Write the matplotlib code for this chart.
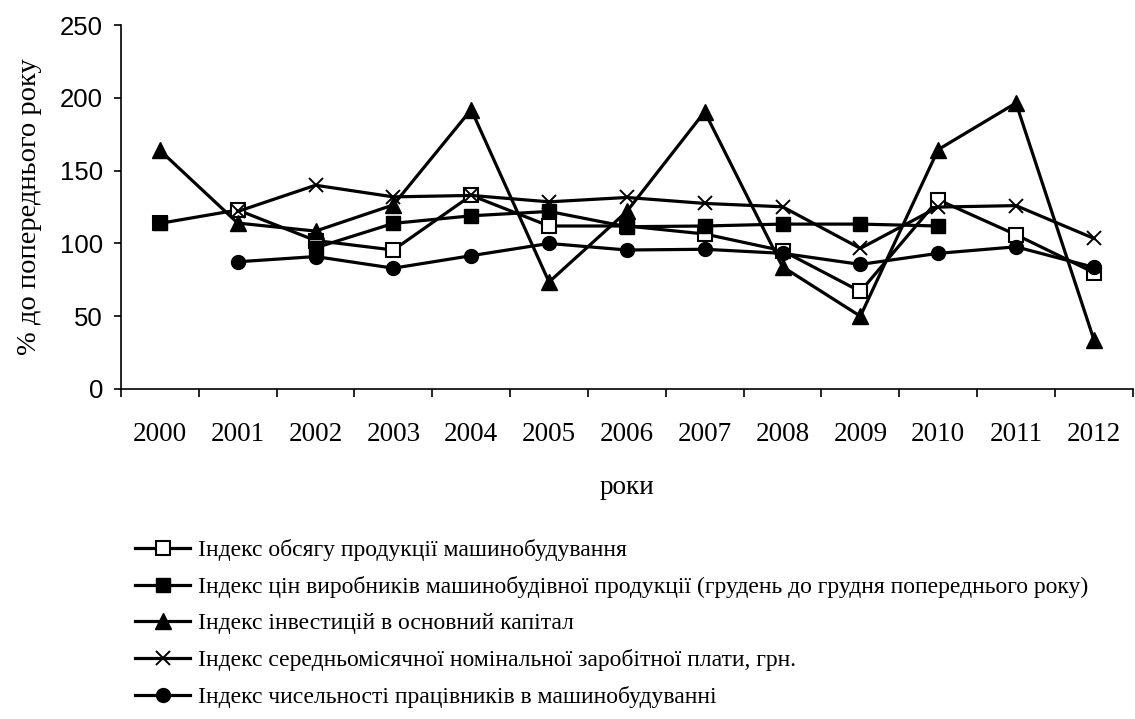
import numpy as np
import matplotlib
matplotlib.use("Agg")
import matplotlib.pyplot as plt

# дані (% до попереднього року)
roky = ["2000", "2001", "2002", "2003", "2004", "2005", "2006",
        "2007", "2008", "2009", "2010", "2011", "2012"]
nan = np.nan
obsyag = [113.8, 123, 102, 95.5, 133, 112, 112, 106.5, 95, 67, 130, 106, 80]
tsiny = [113.8, nan, 97, 113.8, 119, 122, 111.5, 112, 113.3, 113.3, 112, nan, nan]
investytsii = [164, 114, 108.5, 126.5, 192, 73.5, 122, 190.5, 84, 50, 164.5, 196.5, 34]
zarplata = [nan, 122, 140, 132, 133, 128.6, 131.6, 127.5, 125.2, 96.6, 125, 126, 103.5]
pratsivnyky = [nan, 87.4, 91, 83, 91.6, 100, 95.5, 96, 93.2, 85.6, 93.2, 97.7, 83.6]

nazvy = [
    "Індекс обсягу продукції машинобудування",
    "Індекс цін виробників машинобудівної продукції (грудень до грудня попереднього року)",
    "Індекс інвестицій в основний капітал",
    "Індекс середньомісячної номінальної заробітної плати, грн.",
    "Індекс чисельності працівників в машинобудуванні",
]

serif = "Liberation Serif"
sans = "Liberation Sans"

fig = plt.figure(figsize=(11.35, 7.19), dpi=100)
ax = fig.add_axes([0.1066, 0.459, 0.8914, 0.506])

x = np.arange(len(roky))
lw = 2.3
ax.plot(x, obsyag, color="black", lw=lw, marker="s", ms=9.5, mfc="white",
        mec="black", mew=1.5, label=nazvy[0])
ax.plot(x, tsiny, color="black", lw=lw, marker="s", ms=9.5, mfc="black",
        mec="black", label=nazvy[1])
ax.plot(x, investytsii, color="black", lw=lw, marker="^", ms=12, mfc="black",
        mec="black", label=nazvy[2])
ax.plot(x, zarplata, color="black", lw=lw, marker="x", ms=10, mew=1.4,
        mec="black", label=nazvy[3])
ax.plot(x, pratsivnyky, color="black", lw=lw, marker="o", ms=10, mfc="black",
        mec="black", label=nazvy[4])

ax.set_xlim(-0.5, len(roky) - 0.5)
ax.set_ylim(0, 250)
ax.set_yticks(np.arange(0, 251, 50))
# поділки між роками, підписи років по центру
ax.set_xticks(np.arange(len(roky) + 1) - 0.5)
ax.set_xticklabels([])
ax.set_xticks(x, minor=True)
ax.set_xticklabels(roky, minor=True, fontfamily=serif, fontsize=19.5)
ax.tick_params(axis="x", which="major", direction="out", length=5.5, width=1.2)
ax.tick_params(axis="x", which="minor", length=0, pad=24)
ax.tick_params(axis="y", direction="out", length=5, width=1.2, pad=8, labelsize=18.5)
for t in ax.get_yticklabels():
    t.set_fontfamily(sans)

for s in ["top", "right"]:
    ax.spines[s].set_visible(False)
for s in ["left", "bottom"]:
    ax.spines[s].set_linewidth(1.2)

ax.set_xlabel("роки", fontfamily=serif, fontsize=19.5, labelpad=20)
ax.set_ylabel("% до попереднього року", fontfamily=serif, fontsize=20.5, labelpad=13)

fig.legend(loc="upper left", bbox_to_anchor=(135 / 1135, 1 - 539 / 719),
           frameon=False, borderpad=0, borderaxespad=0, handlelength=2.33,
           handletextpad=0.34, labelspacing=0.63,
           prop={"family": serif, "size": 17})

fig.savefig("out.png", dpi=100)
